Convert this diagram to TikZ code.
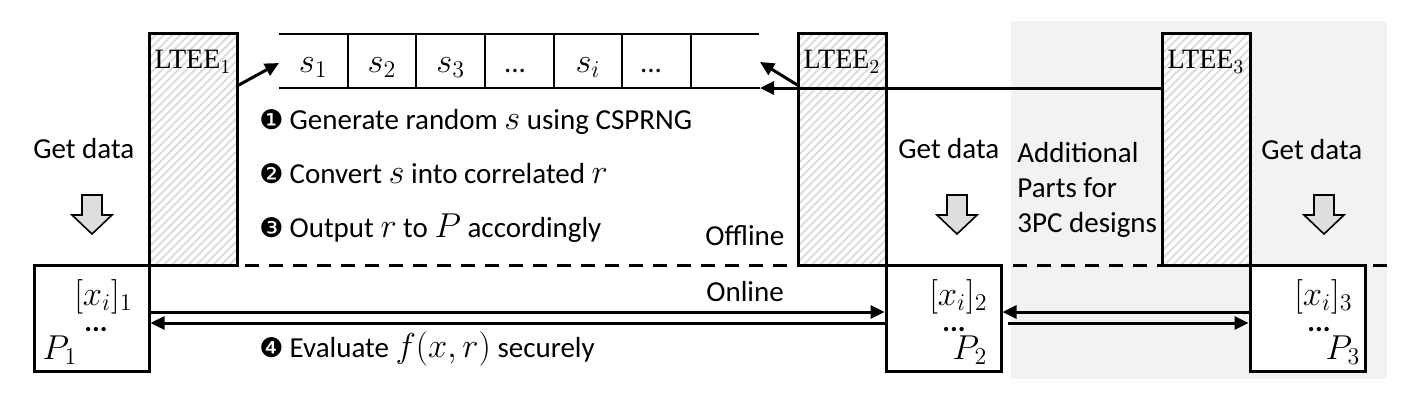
\documentclass[tikz,border=0pt]{standalone}
\usepackage[no-math]{fontspec}
\setmainfont{Carlito}
\newfontfamily\dingfont{DejaVu Sans}
\newfontfamily\seriffont{Liberation Serif}
\usetikzlibrary{arrows.meta,patterns.meta,calc}
\definecolor{bggray}{HTML}{F2F2F2}
\definecolor{hatchgray}{HTML}{DADADA}
\definecolor{blockgray}{HTML}{DEDEDE}
\tikzset{
  ltee/.style={draw, line width=1.5pt, minimum width=44pt, minimum height=116pt, inner sep=0pt,
    preaction={fill=white}, pattern={Lines[angle=45,distance=2.9pt,line width=0.9pt]}, pattern color=hatchgray},
  pbox/.style={draw, fill=white, line width=1.5pt, minimum width=57.5pt, minimum height=53pt, inner sep=0pt},
  arr/.style={line width=1.5pt, -{Triangle[length=7pt,width=6.5pt]}},
  txt/.style={inner sep=0pt, anchor=base west},
  ctr/.style={inner sep=0pt, anchor=base},
  dots/.style={inner sep=0pt, anchor=base, text height=3pt, text depth=0pt},
  lteelbl/.style={inner sep=0pt, anchor=north, font=\seriffont\fontsize{14}{16}\selectfont},
  getarrow/.pic={\draw[line width=0.8pt, fill=blockgray] (-10,195) -- (10,195) -- (10,215) -- (20,215) -- (0,234) -- (-20,215) -- (-10,215) -- cycle;}
}
\newcommand{\dg}[1]{{\dingfont\fontsize{13.5}{13.5}\selectfont #1}\hspace{3pt}}
\newcommand{\mm}[1]{{\fontsize{17}{17}\selectfont$#1$}}
\begin{document}
\begin{tikzpicture}[x=0.5pt,y=-0.5pt, font=\fontsize{14.5}{17.5}\selectfont]
\useasboundingbox (0,0) rectangle (1420,404);
% shaded region for 3PC
\fill[bggray] (1011,21) rectangle (1387,379);
% offline / online separator
\draw[line width=1.5pt, dash pattern=on 7pt off 5pt] (245,265) -- (1388,265);
% LTEE boxes
\node[ltee] (L1) at (193,149) {};
\node[ltee] (L2) at (842,149) {};
\node[ltee] (L3) at (1206,149) {};
\node[lteelbl] (L1t) at (193,50) {LTEE$_1$};
\node[lteelbl] (L2t) at (842,50) {LTEE$_2$};
\node[lteelbl] (L3t) at (1206,50) {LTEE$_3$};
% buffer
\draw[line width=1pt] (279,34) -- (759,34);
\draw[line width=1pt] (279,88) -- (760,88);
\foreach \xx in {347.7,416.3,485,553.7,622.3,691} \draw[line width=1pt] (\xx,34) -- (\xx,88);
\node[ctr] (c1) at (313.3,72) {\mm{s_1}};
\node[ctr] (c2) at (382,72) {\mm{s_2}};
\node[ctr] (c3) at (450.7,72) {\mm{s_3}};
\node[ctr] (c4) at (515,72) {...};
\node[ctr] (c5) at (588,72) {\mm{s_i}};
\node[ctr] (c6) at (651,72) {...};
\coordinate (bufW) at (279,63);
\coordinate (bufE) at (760,62);
\coordinate (bufSE) at (760,88);
\coordinate (L1out) at (237,86);
\coordinate (L2out) at (799,86);
% arrows into the buffer
\draw[arr] (L1out) -- (bufW);
\draw[arr] (L2out) -- (bufE);
\draw[arr] (L3.west |- bufSE) -- (bufSE);
% steps
\node[txt] (t1) at (259,129) {\dg{❶}Generate random \mm{s} using CSPRNG};
\node[txt] (t2) at (259,183) {\dg{❷}Convert \mm{s} into correlated \mm{r}};
\node[txt] (t3) at (259,237) {\dg{❸}Output \mm{r} to \mm{P} accordingly};
\node[txt] (t4) at (259,357) {\dg{❹}Evaluate \mm{f(x,r)} securely};
\node[txt] (off) at (705,245) {Offline};
\node[txt] (on) at (706,301) {Online};
% get data
\node[txt] (g1) at (33,158) {Get data};
\node[txt] (g2) at (898,158) {Get data};
\node[txt] (g3) at (1261,159) {Get data};
\pic at (92,0) {getarrow};
\pic at (957,0) {getarrow};
\pic at (1324,0) {getarrow};
\node[txt, align=left] (add) at (1017,232) {Additional\\Parts for\\3PC designs};
% parties
\node[pbox] (P1) at (91.5,318) {};
\node[pbox] (P2) at (943.5,318) {};
\node[pbox] (P3) at (1307.5,318) {};
\node[inner sep=0pt, anchor=base east] (x1) at (133,305) {\mm{[x_i]_1}};
\node[inner sep=0pt, anchor=base east] (x2) at (988,305) {\mm{[x_i]_2}};
\node[inner sep=0pt, anchor=base east] (x3) at (1353,305) {\mm{[x_i]_3}};
\node[dots] (d1) at (96,331) {\textbf{...}};
\node[dots] (d2) at (954,331) {\textbf{...}};
\node[dots] (d3) at (1319,331) {\textbf{...}};
\node[inner sep=0pt, anchor=base] (p1) at (60,359) {\mm{P_1}};
\node[inner sep=0pt, anchor=base] (p2) at (970,359) {\mm{P_2}};
\node[inner sep=0pt, anchor=base] (p3) at (1343,359) {\mm{P_3}};
% online arrows
\draw[arr] ([yshift=3pt]P1.east) -- ([yshift=3pt]P2.west);
\draw[arr] ([yshift=-2.5pt]P2.west) -- ([yshift=-2.5pt]P1.east);
\draw[arr] ([yshift=3pt]P3.west) -- ([yshift=3pt]P2.east);
\draw[arr] ([yshift=-2.5pt,xshift=2.5pt]P2.east) -- ([yshift=-2.5pt]P3.west);
\end{tikzpicture}
\end{document}
